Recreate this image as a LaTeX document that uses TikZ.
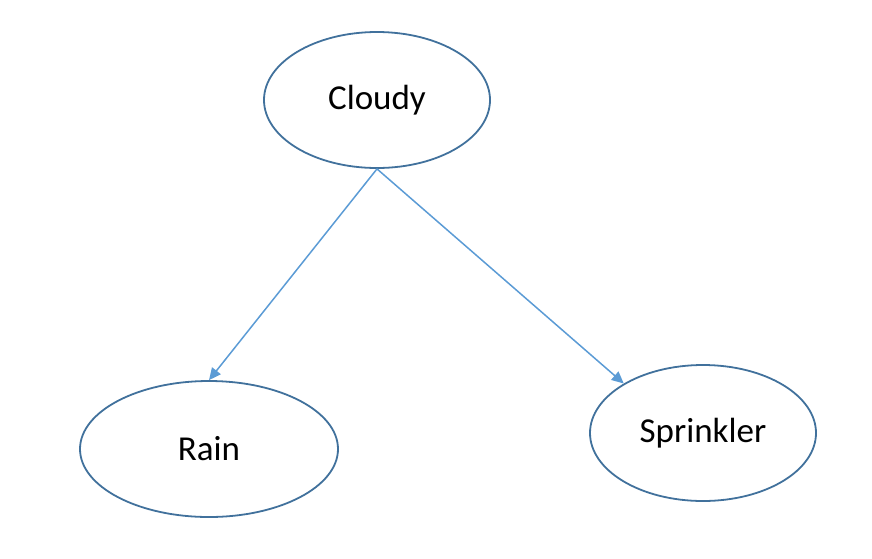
\documentclass[tikz,border=0pt]{standalone}
\usepackage{fontspec}
\setmainfont{Carlito}
\usetikzlibrary{shapes.geometric,arrows.meta}
\definecolor{edgeblue}{HTML}{41719C}
\definecolor{arrowblue}{HTML}{5B9BD5}
\begin{document}
\begin{tikzpicture}[x=1pt,y=-1pt,
  var/.style={ellipse,draw=edgeblue,line width=1.8pt,inner sep=0pt,
    font=\fontsize{35}{42}\selectfont},
  link/.style={draw=arrowblue,line width=1.5pt,
    -{Triangle[length=12pt,width=11pt]}}]
\useasboundingbox (0,0) rectangle (872,558);
\node[var,minimum width=226pt,minimum height=136pt] (cloudy) at (377,100) {Cloudy};
\node[var,minimum width=258pt,minimum height=136pt] (rain) at (209,449) {Rain};
\node[var,minimum width=226pt,minimum height=136pt] (sprinkler) at (703,433) {Sprinkler};
\draw[link] (cloudy.south) -- (rain.north);
\draw[link] (cloudy.south) -- (sprinkler.148.8);
\end{tikzpicture}
\end{document}
